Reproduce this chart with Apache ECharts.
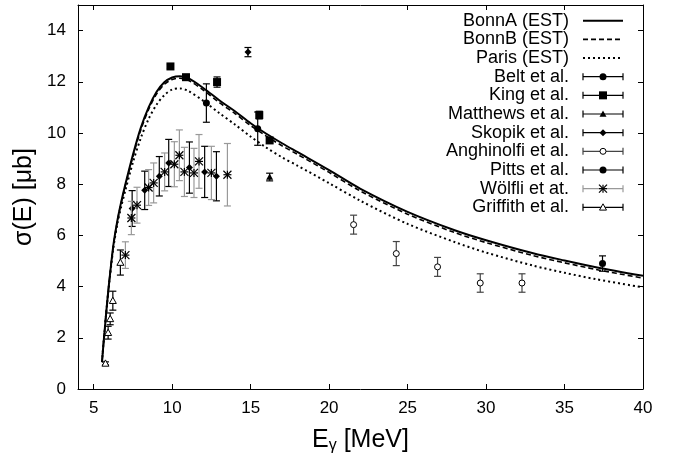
<!DOCTYPE html>
<html>
<head>
<meta charset="utf-8">
<script src="https://cdn.jsdelivr.net/npm/echarts@6/dist/echarts.min.js"></script>
<style>
  html, body { margin: 0; padding: 0; background: #fff; }
  #chart { width: 673px; height: 462px; }
</style>
</head>
<body>
<div id="chart"></div>
<script>
// Photodisintegration cross section: EST calculations and measurements
const FONT = '"Liberation Sans", Arial, Helvetica, sans-serif';

// Tick labels
const xTicks = [5, 10, 15, 20, 25, 30, 35, 40];
const yTicks = [0, 2, 4, 6, 8, 10, 12, 14];

// Energy grid of the calculated curves [MeV]
const curveEnergy = [5.53, 5.6, 5.7, 5.8, 5.9, 6.0, 6.25, 6.5, 6.75, 7.0, 7.5, 8.0, 8.5, 9.0, 9.5,
  10.0, 10.5, 11.0, 12.0, 13.0, 14.0, 15.0, 16.0, 17.0, 18.0, 20.0, 22.0, 25.0, 28.0, 30.0,
  33.0, 35.0, 37.0, 40.0];
// Cross sections [μb] on that grid
const bonnA = [1.05, 1.6, 2.3, 3.0, 3.65, 4.25, 5.6, 6.55, 7.3, 7.95, 9.15, 10.2, 11.0, 11.6, 11.98,
  12.17, 12.22, 12.15, 11.75, 11.28, 10.85, 10.38, 9.97, 9.6, 9.25, 8.55, 7.82, 6.92, 6.2, 5.81,
  5.3, 5.02, 4.76, 4.42];
const bonnB = [1.05, 1.6, 2.3, 3.0, 3.65, 4.25, 5.58, 6.52, 7.26, 7.9, 9.08, 10.12, 10.92, 11.52, 11.9,
  12.09, 12.14, 12.07, 11.67, 11.19, 10.76, 10.29, 9.88, 9.5, 9.16, 8.46, 7.73, 6.83, 6.11, 5.72,
  5.21, 4.93, 4.67, 4.33];
const paris = [1.05, 1.6, 2.3, 2.98, 3.62, 4.2, 5.5, 6.42, 7.12, 7.72, 8.85, 9.8, 10.55, 11.1, 11.48,
  11.7, 11.74, 11.65, 11.25, 10.78, 10.33, 9.86, 9.43, 9.05, 8.72, 8.04, 7.35, 6.45, 5.74, 5.33,
  4.82, 4.54, 4.29, 3.97];

// Measurements: [E (MeV), sigma (μb), error (μb)]
const belt = [[12.18, 11.17, 0.75], [15.45, 10.17, 0.65]];
const king = [[9.89, 12.6, 0.08], [10.88, 12.18, 0.08], [12.86, 11.99, 0.2], [15.55, 10.7, 0.15], [16.21, 9.71, 0.1]];
const matthews = [[16.21, 8.28, 0.15]];
const skopik = [[7.45, 7.05, 0.7], [8.25, 7.76, 0.75], [9.18, 8.31, 0.77], [9.78, 8.83, 0.92],
  [11.10, 8.65, 1.0], [12.07, 8.48, 1.0], [12.82, 8.31, 0.96], [14.83, 13.16, 0.18]];
const anghinolfi = [[21.56, 6.42, 0.37], [24.28, 5.29, 0.47], [26.91, 4.77, 0.37], [29.63, 4.14, 0.36], [32.29, 4.14, 0.36]];
const pitts = [[37.42, 4.9, 0.3]];
const woelfli = [[7.02, 5.23, 0.52], [7.40, 6.68, 0.65], [7.76, 7.18, 0.7], [8.50, 7.87, 0.7], [8.82, 8.05, 0.78],
  [9.52, 8.48, 0.74], [10.14, 8.78, 0.88], [10.46, 9.13, 0.99], [10.78, 8.48, 0.96], [11.39, 8.44, 0.96],
  [11.71, 8.89, 1.05], [12.50, 8.44, 1.04], [13.52, 8.37, 1.22]];
const griffith = [[5.75, 1.0, 0.06], [5.92, 2.2, 0.25], [6.05, 2.74, 0.23], [6.22, 3.45, 0.37], [6.70, 4.94, 0.49]];

const pairs = (ys) => curveEnergy.map((e, i) => [e, ys[i]]);

const curves = [
  { name: 'BonnA (EST)', values: bonnA, line: { color: '#000', width: 2, type: 'solid' } },
  { name: 'BonnB (EST)', values: bonnB, line: { color: '#000', width: 1.6, type: [5, 3] } },
  { name: 'Paris (EST)', values: paris, line: { color: '#000', width: 2, type: [2, 3] } }
];

const measurements = [
  { name: 'Belt et al.', data: belt, marker: 'circle', size: 7, bar: '#000' },
  { name: 'King et al.', data: king, marker: 'square', size: 8, bar: '#000' },
  { name: 'Matthews et al.', data: matthews, marker: 'triangle', size: 7, bar: '#000' },
  { name: 'Skopik et al.', data: skopik, marker: 'diamond', size: 7, bar: '#000' },
  { name: 'Anghinolfi et al.', data: anghinolfi, marker: 'ocircle', size: 7, bar: '#444' },
  { name: 'Pitts et al.', data: pitts, marker: 'circle', size: 7, bar: '#000' },
  { name: 'Wölfli et at.', data: woelfli, marker: 'star', size: 8, bar: '#999' },
  { name: 'Griffith et al.', data: griffith, marker: 'otriangle', size: 7, bar: '#000' }
];

function markerShape(kind, cx, cy, s) {
  const h = s / 2;
  const stroke = { stroke: '#000', lineWidth: 1 };
  switch (kind) {
    case 'circle':
      return { type: 'circle', shape: { cx, cy, r: h }, style: { fill: '#000' } };
    case 'ocircle':
      return { type: 'circle', shape: { cx, cy, r: h - 0.5 }, style: { fill: '#fff', stroke: '#000', lineWidth: 1 } };
    case 'square':
      return { type: 'rect', shape: { x: cx - h, y: cy - h, width: s, height: s }, style: { fill: '#000' } };
    case 'triangle':
      return { type: 'polygon', shape: { points: [[cx, cy - h], [cx + h, cy + h * 0.8], [cx - h, cy + h * 0.8]] }, style: { fill: '#000' } };
    case 'otriangle':
      return { type: 'polygon', shape: { points: [[cx, cy - h], [cx + h, cy + h * 0.8], [cx - h, cy + h * 0.8]] }, style: Object.assign({ fill: '#fff' }, stroke) };
    case 'diamond':
      return { type: 'polygon', shape: { points: [[cx, cy - h], [cx + h, cy], [cx, cy + h], [cx - h, cy]] }, style: { fill: '#000' } };
    case 'star':
      return {
        type: 'group', children: [
          { type: 'line', shape: { x1: cx - h, y1: cy - h, x2: cx + h, y2: cy + h }, style: Object.assign({}, stroke, { lineWidth: 1.2 }) },
          { type: 'line', shape: { x1: cx - h, y1: cy + h, x2: cx + h, y2: cy - h }, style: Object.assign({}, stroke, { lineWidth: 1.2 }) },
          { type: 'line', shape: { x1: cx - h, y1: cy, x2: cx + h, y2: cy }, style: Object.assign({}, stroke, { lineWidth: 1.2 }) },
          { type: 'line', shape: { x1: cx, y1: cy - h, x2: cx, y2: cy + h }, style: Object.assign({}, stroke, { lineWidth: 1.2 }) }
        ]
      };
  }
}

function errorBarRenderer(m) {
  return function (params, api) {
    const x = api.value(0), y = api.value(1), e = api.value(2);
    const c = api.coord([x, y]);
    const top = api.coord([x, y + e])[1];
    const bot = api.coord([x, y - e])[1];
    const cap = 3.5;
    const bs = { stroke: m.bar, lineWidth: 1.2 };
    return {
      type: 'group',
      children: [
        { type: 'line', shape: { x1: c[0], y1: top, x2: c[0], y2: bot }, style: bs },
        { type: 'line', shape: { x1: c[0] - cap, y1: top, x2: c[0] + cap, y2: top }, style: bs },
        { type: 'line', shape: { x1: c[0] - cap, y1: bot, x2: c[0] + cap, y2: bot }, style: bs },
        markerShape(m.marker, c[0], c[1], m.size)
      ]
    };
  };
}

// Key, drawn at the upper right inside the frame
const keyTextRight = 569, keyTop = 20.7, keyStep = 18.66, keyX1 = 583, keyX2 = 623;
const keyItems = [];
const keyRows = curves.map(c => ({ name: c.name, curve: c })).concat(measurements.map(m => ({ name: m.name, meas: m })));
keyRows.forEach((row, i) => {
  const y = keyTop + i * keyStep;
  keyItems.push({
    type: 'text', x: keyTextRight, y: y,
    style: { text: row.name, font: '18px ' + FONT, fill: '#000', align: 'right', verticalAlign: 'middle' }
  });
  if (row.curve) {
    const ls = row.curve.line;
    keyItems.push({
      type: 'line', shape: { x1: keyX1, y1: y, x2: keyX2, y2: y },
      style: { stroke: ls.color, lineWidth: ls.width, lineDash: ls.type === 'solid' ? null : ls.type }
    });
  } else {
    const m = row.meas;
    const bs = { stroke: m.bar, lineWidth: 1.2 };
    keyItems.push({ type: 'line', shape: { x1: keyX1, y1: y, x2: keyX2, y2: y }, style: bs });
    keyItems.push({ type: 'line', shape: { x1: keyX1, y1: y - 3.5, x2: keyX1, y2: y + 3.5 }, style: bs });
    keyItems.push({ type: 'line', shape: { x1: keyX2, y1: y - 3.5, x2: keyX2, y2: y + 3.5 }, style: bs });
    keyItems.push(markerShape(m.marker, (keyX1 + keyX2) / 2, y, m.size));
  }
});

const tickStyle = { show: true, inside: true, length: 5, lineStyle: { color: '#000', width: 1 } };
const axisLine = { show: true, onZero: false, lineStyle: { color: '#000', width: 1 } };

const option = {
  animation: false,
  backgroundColor: '#fff',
  grid: { left: 78, right: 30, top: 5, bottom: 73, show: false },
  xAxis: [{
    type: 'value', min: 4, max: 40, position: 'bottom',
    axisLine: axisLine,
    axisTick: Object.assign({ customValues: xTicks }, tickStyle),
    axisLabel: { customValues: xTicks, color: '#000', fontSize: 17, fontFamily: FONT, margin: 11 },
    splitLine: { show: false },
    name: '{e|E}{s|γ}{e| [MeV]}', nameLocation: 'middle', nameGap: 37,
    nameTextStyle: {
      rich: {
        e: { fontSize: 25, fontFamily: FONT, color: '#000' },
        s: { fontSize: 16, fontFamily: FONT, color: '#000', verticalAlign: 'bottom', padding: [12, 0, 0, 0] }
      }
    }
  }, {
    type: 'value', min: 4, max: 40, position: 'top',
    axisLine: axisLine,
    axisTick: Object.assign({ customValues: xTicks }, tickStyle),
    axisLabel: { show: false }, splitLine: { show: false }
  }],
  yAxis: [{
    type: 'value', min: 0, max: 15, position: 'left',
    axisLine: axisLine,
    axisTick: Object.assign({ customValues: yTicks }, tickStyle),
    axisLabel: { customValues: yTicks, color: '#000', fontSize: 17, fontFamily: FONT, margin: 12 },
    splitLine: { show: false },
    name: 'σ(E) [μb]', nameLocation: 'middle', nameGap: 35, nameRotate: 90,
    nameTextStyle: { fontSize: 25, fontFamily: FONT, color: '#000' }
  }, {
    type: 'value', min: 0, max: 15, position: 'right',
    axisLine: axisLine,
    axisTick: Object.assign({ customValues: yTicks }, tickStyle),
    axisLabel: { show: false }, splitLine: { show: false }
  }],
  graphic: keyItems,
  series: curves.map(c => ({
    type: 'line', name: c.name, data: pairs(c.values), xAxisIndex: 0, yAxisIndex: 0,
    showSymbol: false, smooth: 0.3, z: 2,
    lineStyle: { color: c.line.color, width: c.line.width, type: c.line.type }
  })).concat(measurements.map(m => ({
    type: 'custom', name: m.name, data: m.data, xAxisIndex: 0, yAxisIndex: 0,
    encode: { x: 0, y: 1 }, clip: true, z: 3,
    renderItem: errorBarRenderer(m)
  })))
};

const chart = echarts.init(document.getElementById('chart'), null, { renderer: 'canvas' });
chart.setOption(option);
</script>
</body>
</html>
